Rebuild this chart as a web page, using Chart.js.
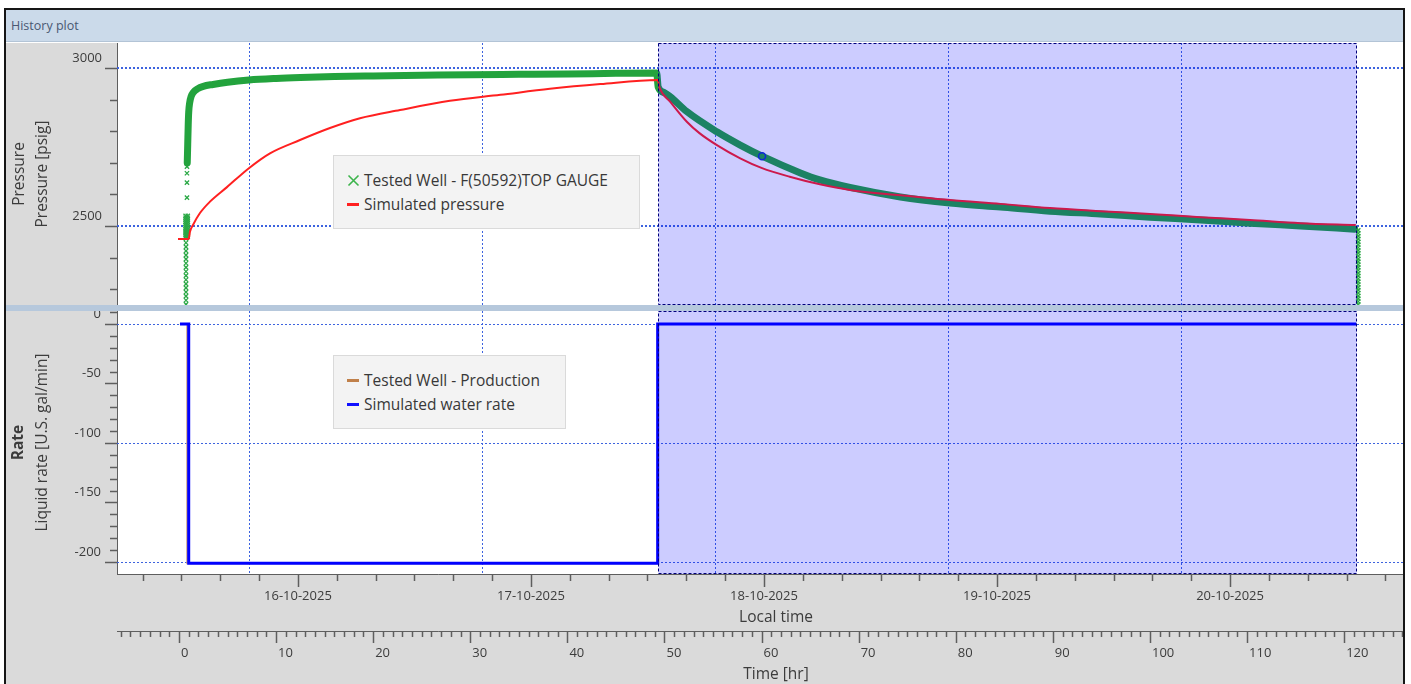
<!DOCTYPE html>
<html>
<head>
<meta charset="utf-8">
<title>History plot</title>
<script src="https://cdn.jsdelivr.net/npm/chart.js@4.4.1/dist/chart.umd.min.js"></script>
<style>
  html, body { margin: 0; padding: 0; background: #ffffff; width: 1411px; height: 684px; overflow: hidden; font-family: 'Open Sans', sans-serif; }
  #frame { position: absolute; left: 4px; top: 8px; width: 1401px; height: 700px; border: 2px solid #161616; border-bottom: none; box-sizing: border-box; }
  #header { position: absolute; left: 6px; top: 10px; width: 1397px; height: 32px; background: #cbdaea; border-bottom: 1px solid #b3c4d6; font-size: 12.5px; line-height: 32px; color: #4a5872; padding-left: 5px; box-sizing: border-box; }
  #plot { position: absolute; left: 6px; top: 43px; }
  .legend { position: absolute; background: #f3f3f3; border: 1px solid #dadada; box-sizing: border-box; font-size: 15.5px; color: #383838; }
  .legend .row { position: absolute; left: 13px; height: 20px; line-height: 20px; white-space: nowrap; }
  .legend .mark { display: inline-block; width: 13px; height: 13px; vertical-align: middle; margin-right: 4px; position: relative; top: -1px; }
  .legend .dash { display: inline-block; width: 12px; height: 3px; vertical-align: middle; margin-right: 5px; position: relative; top: -1px; }
</style>
</head>
<body>
<div id="frame"></div>
<div id="header">History plot</div>
<canvas id="plot" width="1397" height="641"></canvas>

<div class="legend" style="left:333px; top:155px; width:307px; height:74px;">
  <div class="row" style="top:14px;"><svg class="mark" viewBox="0 0 13 13"><path d="M1.5 1.5 L11.5 11.5 M11.5 1.5 L1.5 11.5" stroke="#3cb44b" stroke-width="1.6" fill="none"/></svg>Tested Well - F(50592)TOP GAUGE</div>
  <div class="row" style="top:38px;"><span class="dash" style="background:#ff2020;"></span>Simulated pressure</div>
</div>
<div class="legend" style="left:333px; top:355px; width:233px; height:74px;">
  <div class="row" style="top:14px;"><span class="dash" style="background:#c0804a;"></span>Tested Well - Production</div>
  <div class="row" style="top:38px;"><span class="dash" style="background:#1010ff;"></span>Simulated water rate</div>
</div>

<script>
// ---- Axes (time in hours since the start of the test) ----
const timeMin = -6.385;
const timeMax = 126.06;
const hourTicks = [0, 10, 20, 30, 40, 50, 60, 70, 80, 90, 100, 110, 120];
const dateTickHours = [12.25, 36.25, 60.25, 84.25, 108.25];
const dateTickLabels = ['16-10-2025', '17-10-2025', '18-10-2025', '19-10-2025', '20-10-2025'];
const timeGrid = [7.2, 31.2, 55.2, 79.2, 103.2];

const pressureMin = 2240.5;
const pressureMax = 3079.1;
const pressureTicks = [2500, 3000];
const pressureGrid = [2500, 3000];

const rateMin = -210.1;
const rateMax = 13.45;
const rateTicks = [0, -50, -100, -150, -200];
const rateGrid = [0, -100, -200];

// Analysis window (shut-in period)
const selectionHours = [49.3, 121.25];

// ---- Gauge pressure: continuous record ----
const gaugeHours = [0.85, 0.9, 0.95, 1.0, 1.1, 1.25, 1.5, 1.9, 2.5, 3.5, 5.0, 7.2, 10.0, 12.5, 16.0, 20.0, 25.0, 30.0, 35.0, 40.0, 45.0, 49.2,
  49.35, 50.0, 50.6, 52.3, 55.4, 57.8, 60.05, 64.0, 66.0, 69.1, 74.3, 79.4, 84.6, 89.7, 94.9, 100.0, 105.2, 110.3, 115.5, 121.1];
const gaugePsi = [2700, 2760, 2820, 2860, 2890, 2910, 2924, 2934, 2942, 2948, 2955, 2962, 2967, 2970, 2973, 2975, 2977, 2979, 2980, 2981, 2983, 2984,
  2940, 2922, 2909, 2862, 2798, 2756, 2721, 2668, 2646, 2622, 2592, 2573, 2560, 2547, 2538, 2528, 2519, 2509, 2500, 2490];

// ---- Gauge pressure: individual readings while running in and pulling out ----
const gaugeSpotHours = [
  0.72, 0.72, 0.72, 0.72, 0.72, 0.72, 0.72, 0.72, 0.72, 0.72, 0.72, 0.72, 0.72, 0.72, 0.72, 0.72, 0.72,
  0.68, 0.68, 0.68, 0.68, 0.68, 0.68, 0.68, 0.68, 0.68, 0.68, 0.68, 0.68,
  0.90, 0.90, 0.90, 0.90, 0.90, 0.90, 0.90, 0.90, 0.90, 0.90, 0.90, 0.90,
  0.82, 0.82, 0.82, 0.82,
  121.45, 121.45, 121.45, 121.45, 121.45, 121.45, 121.45, 121.45, 121.45, 121.45, 121.45, 121.45, 121.45, 121.45,
  121.45, 121.45, 121.45, 121.45, 121.45, 121.45, 121.45, 121.45, 121.45, 121.45, 121.45, 121.45, 121.45, 121.45];
const gaugeSpotPsi = [
  2252, 2265, 2278, 2291, 2304, 2317, 2330, 2343, 2356, 2369, 2382, 2395, 2408, 2421, 2434, 2447, 2460,
  2466, 2472, 2478, 2484, 2490, 2496, 2502, 2508, 2514, 2520, 2526, 2532,
  2466, 2472, 2478, 2484, 2490, 2496, 2502, 2508, 2514, 2520, 2526, 2532,
  2590, 2637, 2667, 2688,
  2486, 2477, 2468, 2459, 2450, 2441, 2432, 2423, 2414, 2405, 2396, 2387, 2378, 2369,
  2360, 2351, 2342, 2333, 2324, 2315, 2306, 2297, 2288, 2279, 2270, 2261, 2252, 2243];

// ---- Simulated pressure ----
const simHours = [-0.1, 1.0, 1.13, 1.44, 2.16, 3.19, 4.94, 7.2, 9.37, 12.46, 15.55, 18.64, 22.76, 27.9, 33.1, 38.2, 43.4, 49.3,
  49.5, 50.6, 52.3, 53.6, 55.4, 57.8, 60.05, 62.9, 66.0, 69.1, 74.3, 79.4, 84.6, 89.7, 94.9, 100.0, 105.2, 110.3, 115.5, 121.2];
const simPsi = [2459, 2459, 2482, 2503, 2541, 2577, 2623, 2683, 2730, 2772, 2810, 2841, 2867, 2896, 2915, 2934, 2949, 2962,
  2937, 2893, 2830, 2794, 2756, 2714, 2683, 2656, 2632, 2614, 2597, 2582, 2570, 2557, 2547, 2538, 2528, 2519, 2509, 2503];

// Cursor point on the gauge record
const cursorHours = [60.05];
const cursorPsi = [2721];

// ---- Rates (U.S. gal/min, injection negative) ----
const productionHours = [0.1, 0.85, 0.85, 49.3, 49.3, 121.25];
const productionRate = [0, 0, -201, -201, 0, 0];
const simRateHours = [0.1, 1.0, 1.0, 49.3, 49.3, 121.25];
const simRate = [0, 0, -201, -201, 0, 0];

const pts = (xs, ys) => xs.map((x, i) => ({ x: x, y: ys[i] }));

const GRID_BLUE = '#3d63df';
const AXIS_GRAY = '#5e5e5e';
const FONT = '"Open Sans", sans-serif';
const TITLE_FONT = '15.5px ' + FONT;

Chart.defaults.font.family = FONT;
Chart.defaults.font.size = 13;
Chart.defaults.color = '#3c3c3c';

function fixedWidth(w) {
  return (scale) => { scale.width = w; scale.paddingTop = 0; scale.paddingBottom = 0; scale.paddingLeft = 0; scale.paddingRight = 0; };
}
function fixedHeight(h) {
  return (scale) => { scale.height = h; scale.paddingTop = 0; scale.paddingBottom = 0; scale.paddingLeft = 0; scale.paddingRight = 0; };
}
const setTicks = (values) => (scale) => { scale.ticks = values.map(v => ({ value: v })); };

function strokeLine(ctx, x0, y0, x1, y1) {
  ctx.beginPath(); ctx.moveTo(x0, y0); ctx.lineTo(x1, y1); ctx.stroke();
}

// Dotted grid, analysis window, panel separator, minor ticks and axis titles
const historyDecor = {
  id: 'historyDecor',
  beforeDraw(chart) {
    const { ctx, chartArea: a } = chart;
    ctx.save();
    ctx.fillStyle = '#dadada';
    ctx.fillRect(0, 0, chart.width, chart.height);
    ctx.fillStyle = '#ffffff';
    ctx.fillRect(a.left, a.top, a.right - a.left, a.bottom - a.top);
    ctx.restore();
  },
  beforeDatasetsDraw(chart) {
    const { ctx, chartArea: a, scales } = chart;
    const x = scales.xHr, yP = scales.yP, yR = scales.yR;
    ctx.save();
    ctx.strokeStyle = GRID_BLUE;
    ctx.lineWidth = 1;
    ctx.setLineDash([2, 2]);
    for (const t of timeGrid) {
      const px = Math.round(x.getPixelForValue(t)) + 0.5;
      strokeLine(ctx, px, a.top, px, a.bottom);
    }
    ctx.lineWidth = 2;
    ctx.setLineDash([2, 2]);
    for (const v of pressureGrid) {
      const py = Math.round(yP.getPixelForValue(v));
      strokeLine(ctx, a.left, py, a.right, py);
    }
    ctx.lineWidth = 1;
    for (const v of rateGrid) {
      const py = Math.round(yR.getPixelForValue(v)) + 0.5;
      strokeLine(ctx, a.left, py, a.right, py);
    }
    ctx.restore();
  },
  afterDatasetsDraw(chart) {
    const { ctx, chartArea: a, scales } = chart;
    const x = scales.xHr, xD = scales.xDate, yP = scales.yP, yR = scales.yR;
    const sepTop = yR.top - 3, sepBottom = yR.top + 3;
    const x0 = Math.round(x.getPixelForValue(selectionHours[0])) + 0.5;
    const x1 = Math.round(x.getPixelForValue(selectionHours[1])) + 0.5;
    ctx.save();
    // analysis window
    const panels = [[yP.top, sepTop], [sepBottom, yR.bottom]];
    for (const [t, b] of panels) {
      ctx.fillStyle = 'rgba(0, 0, 255, 0.2)';
      ctx.fillRect(x0, t, x1 - x0, b - t);
      ctx.strokeStyle = '#00007a';
      ctx.lineWidth = 1;
      ctx.setLineDash([3, 2]);
      ctx.strokeRect(x0, t + 0.5, x1 - x0, b - t - 1);
    }
    ctx.setLineDash([]);
    // panel separator
    ctx.fillStyle = '#b6c8dc';
    ctx.fillRect(0, sepTop, chart.width, sepBottom - sepTop);

    // tick marks
    ctx.strokeStyle = AXIS_GRAY;
    const ax = a.left;
    ctx.lineWidth = 1.5;
    for (let v = 2300; v <= 3000; v += 100) {
      const py = Math.round(yP.getPixelForValue(v)) + 0.5;
      if (py > sepTop) continue;
      strokeLine(ctx, ax - (pressureTicks.includes(v) ? 12 : 7), py, ax, py);
    }
    for (let v = 10; v >= -210; v -= 10) {
      const py = Math.round(yR.getPixelForValue(v)) + 0.5;
      if (py < sepBottom || py > yR.bottom) continue;
      strokeLine(ctx, ax - (rateTicks.includes(v) ? 12 : 7), py, ax, py);
    }
    // local-time axis: every 4 hours
    let first = dateTickHours[0] - 4 * Math.floor((dateTickHours[0] - timeMin) / 4);
    for (let t = first; t <= timeMax; t += 4) {
      const px = Math.round(xD.getPixelForValue(t)) + 0.5;
      const major = dateTickHours.some(d => Math.abs(d - t) < 1e-6);
      strokeLine(ctx, px, xD.top, px, xD.top + (major ? 13 : 7));
    }
    // elapsed-time axis: every hour
    for (let t = Math.ceil(timeMin); t <= timeMax; t += 1) {
      const px = Math.round(x.getPixelForValue(t)) + 0.5;
      strokeLine(ctx, px, x.top, px, x.top + (t % 10 === 0 ? 12 : 6));
    }

    // axis titles
    ctx.fillStyle = '#3c3c3c';
    ctx.textAlign = 'center';
    ctx.textBaseline = 'middle';
    const midP = (yP.top + sepTop) / 2;
    const midR = (sepBottom + yR.bottom) / 2;
    const vtext = (txt, cx, cy, font) => {
      ctx.save(); ctx.translate(cx, cy); ctx.rotate(-Math.PI / 2); ctx.font = font; ctx.fillText(txt, 0, 0); ctx.restore();
    };
    vtext('Pressure', 14, midP, TITLE_FONT);
    vtext('Pressure [psig]', 37, midP, TITLE_FONT);
    vtext('Rate', 13, midR, 'bold ' + TITLE_FONT);
    vtext('Liquid rate [U.S. gal/min]', 37, midR, TITLE_FONT);
    ctx.font = TITLE_FONT;
    const cx = (a.left + a.right) / 2 + 16;
    ctx.fillText('Local time', cx, xD.top + 44);
    ctx.fillText('Time [hr]', cx, x.top + 44);
    ctx.restore();
  }
};

const commonX = { type: 'linear', min: timeMin, max: timeMax };

new Chart(document.getElementById('plot'), {
  type: 'scatter',
  data: {
    datasets: [
      {
        label: 'cursor', xAxisID: 'xHr', yAxisID: 'yP', order: 0, clip: 0,
        data: pts(cursorHours, cursorPsi), showLine: false,
        pointStyle: 'circle', pointRadius: 3.5, borderColor: '#1030d0', backgroundColor: 'rgba(0,0,0,0)', borderWidth: 1.5
      },
      {
        label: 'Simulated pressure', xAxisID: 'xHr', yAxisID: 'yP', order: 1, clip: 0,
        data: pts(simHours, simPsi), showLine: true, cubicInterpolationMode: 'monotone',
        borderColor: '#ff2020', borderWidth: 2, pointRadius: 0
      },
      {
        label: 'Tested Well - F(50592)TOP GAUGE', xAxisID: 'xHr', yAxisID: 'yP', order: 2, clip: 0,
        data: pts(gaugeHours, gaugePsi), showLine: true, cubicInterpolationMode: 'monotone',
        borderColor: '#23a33d', borderWidth: 7, pointRadius: 0, borderCapStyle: 'round', borderJoinStyle: 'round'
      },
      {
        label: 'Tested Well - F(50592)TOP GAUGE readings', xAxisID: 'xHr', yAxisID: 'yP', order: 2, clip: 0,
        data: pts(gaugeSpotHours, gaugeSpotPsi), showLine: false,
        pointStyle: 'crossRot', pointRadius: 3, borderColor: '#2aa845', borderWidth: 1.3
      },
      {
        label: 'Simulated water rate', xAxisID: 'xHr', yAxisID: 'yR', order: 0, clip: 0,
        data: pts(simRateHours, simRate), showLine: true,
        borderColor: '#0000ff', borderWidth: 3, pointRadius: 0
      },
      {
        label: 'Tested Well - Production', xAxisID: 'xHr', yAxisID: 'yR', order: 1, clip: 0,
        data: pts(productionHours, productionRate), showLine: true,
        borderColor: '#d0a080', borderWidth: 2, pointRadius: 0
      }
    ]
  },
  options: {
    responsive: false,
    animation: false,
    events: [],
    layout: { padding: 0, autoPadding: false },
    plugins: { legend: { display: false }, tooltip: { enabled: false } },
    scales: {
      yP: {
        type: 'linear', position: 'left', stack: 'panels', stackWeight: 265, weight: 2,
        min: pressureMin, max: pressureMax,
        afterBuildTicks: setTicks(pressureTicks), afterFit: fixedWidth(111),
        grid: { display: false, drawTicks: false },
        border: { display: true, color: AXIS_GRAY, width: 1 },
        ticks: { autoSkip: false, padding: 15, labelOffset: -10, callback: v => String(v) }
      },
      yR: {
        type: 'linear', position: 'left', stack: 'panels', stackWeight: 266, weight: 1,
        min: rateMin, max: rateMax,
        afterBuildTicks: setTicks(rateTicks), afterFit: fixedWidth(111),
        grid: { display: false, drawTicks: false },
        border: { display: true, color: AXIS_GRAY, width: 1 },
        ticks: { autoSkip: false, padding: 16, labelOffset: -10, callback: v => String(v) }
      },
      xDate: Object.assign({}, commonX, {
        position: 'bottom', weight: 0,
        afterBuildTicks: setTicks(dateTickHours), afterFit: fixedHeight(57),
        grid: { display: false, drawTicks: false },
        border: { display: true, color: AXIS_GRAY, width: 1 },
        ticks: { autoSkip: false, maxRotation: 0, padding: 14, callback: (v, i) => dateTickLabels[i] }
      }),
      xHr: Object.assign({}, commonX, {
        position: 'bottom', weight: 1,
        afterBuildTicks: setTicks(hourTicks), afterFit: fixedHeight(53),
        grid: { display: false, drawTicks: false },
        border: { display: true, color: AXIS_GRAY, width: 1 },
        ticks: { autoSkip: false, maxRotation: 0, padding: 14, align: 'start', labelOffset: 2, callback: v => String(v) }
      })
    }
  },
  plugins: [historyDecor]
});
</script>
</body>
</html>
